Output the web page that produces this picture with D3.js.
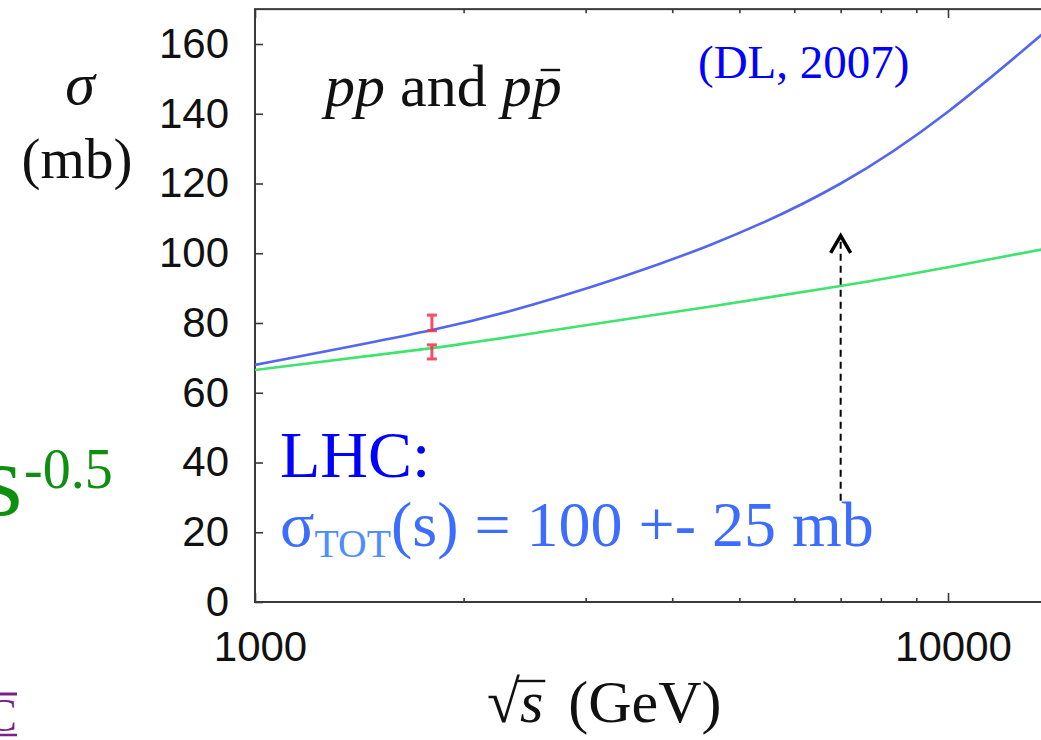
<!DOCTYPE html>
<html>
<head>
<meta charset="utf-8">
<script src="https://cdn.jsdelivr.net/npm/d3@7"></script>
<style>
	body { margin: 0; background: #fff; }
	svg { display: block; }
</style>
</head>
<body>
<svg id="chart" width="1041" height="740"></svg>
<script>
// sqrt(s) in GeV and sigma_tot in mb
const energies = [1000, 1800, 2750, 4500, 7000, 10000, 14000]
const sigmaHard = [68, 78, 87.5, 102.1, 120, 140.6, 164.5]
const sigmaSoft = [66.5, 72.8, 78.2, 84.6, 90.6, 96, 101.5]

// Tevatron points (CDF, E811)
const dataEnergy = [1800, 1800]
const dataSigma = [80.03, 71.71]
const dataError = [2.24, 2.02]

// LHC arrow
const lhcEnergy = 7000
const arrowFrom = 29
const arrowTo = 105

const yTicks = [0, 20, 40, 60, 80, 100, 120, 140, 160]
const xMajorTicks = [1000, 10000]
const xMinorTicks = [2000, 3000, 4000, 5000, 6000, 7000, 8000, 9000]

const svg = d3.select("#chart")

const x = d3.scaleLog().domain([1000, 14000]).range([255, 255 + 693 * Math.log10(14)])
const y = d3.scaleLinear().domain([0, 170]).range([602, 602 - 170 * 3.4875])

const plotLeft = x.range()[0]
const plotRight = x.range()[1]
const plotTop = y.range()[1]
const plotBottom = y.range()[0]

const sansFont = "'Liberation Sans', Arial, sans-serif"
const serifFont = "'Liberation Serif', 'Times New Roman', serif"
const axisColor = "#3a3a3a"

// frame
svg.append("rect")
	.attr("x", plotLeft)
	.attr("y", plotTop)
	.attr("width", plotRight - plotLeft)
	.attr("height", plotBottom - plotTop)
	.attr("fill", "none")
	.attr("stroke", axisColor)
	.attr("stroke-width", 2)

const yAxis = svg.append("g")
	.attr("transform", `translate(${plotLeft},0)`)
	.call(d3.axisLeft(y).tickValues(yTicks).tickSize(-8).tickPadding(26))
yAxis.selectAll("text").style("font", `42px ${sansFont}`).attr("fill", "#111")

svg.append("g")
	.attr("transform", `translate(${plotRight},0)`)
	.call(d3.axisRight(y).tickValues(yTicks).tickSize(-8).tickFormat(""))

const xAxis = svg.append("g")
	.attr("transform", `translate(0,${plotBottom})`)
	.call(d3.axisBottom(x).tickValues(xMajorTicks).tickSize(-9).tickPadding(29).tickFormat(d3.format("d")))
xAxis.selectAll("text").style("font", `42px ${sansFont}`).attr("fill", "#111").attr("dx", 5)

svg.append("g")
	.attr("transform", `translate(0,${plotBottom})`)
	.call(d3.axisBottom(x).tickValues(xMinorTicks).tickSize(-4).tickFormat(""))

svg.append("g")
	.attr("transform", `translate(0,${plotTop})`)
	.call(d3.axisTop(x).tickValues(xMajorTicks).tickSize(-9).tickFormat(""))

svg.append("g")
	.attr("transform", `translate(0,${plotTop})`)
	.call(d3.axisTop(x).tickValues(xMinorTicks).tickSize(-4).tickFormat(""))

svg.selectAll(".domain").remove()
svg.selectAll(".tick line").attr("stroke", axisColor).attr("stroke-width", 1.6)

// curves
const line = d3.line()
	.curve(d3.curveNatural)
	.x((d, i) => x(energies[i]))
	.y(d => y(d))

svg.append("path")
	.datum(sigmaSoft)
	.attr("fill", "none")
	.attr("stroke", "#3ee46e")
	.attr("stroke-width", 2.6)
	.attr("d", line)

svg.append("path")
	.datum(sigmaHard)
	.attr("fill", "none")
	.attr("stroke", "#5266f0")
	.attr("stroke-width", 2.6)
	.attr("d", line)

// error bars
const bars = svg.append("g").attr("stroke", "#f5304c").attr("stroke-width", 3).attr("opacity", 0.85)
dataSigma.forEach((v, i) => {
	const cx = x(dataEnergy[i])
	bars.append("line")
		.attr("x1", cx).attr("x2", cx)
		.attr("y1", y(v - dataError[i])).attr("y2", y(v + dataError[i]))
	;[v - dataError[i], v + dataError[i]].forEach(e => {
		bars.append("line")
			.attr("x1", cx - 5).attr("x2", cx + 5)
			.attr("y1", y(e)).attr("y2", y(e))
	})
})

// LHC arrow
const ax = x(lhcEnergy)
svg.append("line")
	.attr("x1", ax).attr("x2", ax)
	.attr("y1", y(arrowFrom)).attr("y2", y(arrowTo) + 3)
	.attr("stroke", "#000")
	.attr("stroke-width", 2)
	.attr("stroke-dasharray", "7,5")
svg.append("path")
	.attr("d", `M${ax - 10},${y(arrowTo) + 17} L${ax},${y(arrowTo)} L${ax + 10},${y(arrowTo) + 17}`)
	.attr("fill", "none")
	.attr("stroke", "#000")
	.attr("stroke-width", 3.5)
	.attr("stroke-linejoin", "miter")

// labels in the frame
const proc = svg.append("text")
	.attr("x", 325)
	.attr("y", 106)
	.style("font", `60px ${serifFont}`)
	.attr("fill", "#111")
proc.append("tspan").style("font-style", "italic").text("pp")
proc.append("tspan").text(" and ")
proc.append("tspan").style("font-style", "italic").text("pp")
const lastP = proc.node().getExtentOfChar(8)
svg.append("line")
	.attr("x1", lastP.x + lastP.width * 0.3)
	.attr("x2", lastP.x + lastP.width * 0.95)
	.attr("y1", 70).attr("y2", 70)
	.attr("stroke", "#111")
	.attr("stroke-width", 2.4)

svg.append("text")
	.attr("x", 698)
	.attr("y", 78)
	.style("font", `47px ${serifFont}`)
	.attr("fill", "#0000ff")
	.text("(DL, 2007)")

svg.append("text")
	.attr("x", 280)
	.attr("y", 477)
	.style("font", `66px ${serifFont}`)
	.attr("fill", "#0000ff")
	.text("LHC:")

const tot = svg.append("text")
	.attr("x", 280)
	.attr("y", 546)
	.style("font", `64px ${serifFont}`)
	.attr("fill", "#3d6dff")
tot.append("tspan").text("σ")
tot.append("tspan").attr("font-size", "0.62em").attr("dy", "0.28em").attr("fill", "#4f8cff").text("TOT")
tot.append("tspan").attr("dy", "-0.175em").text("(s) = 100 +- 25 mb")

// axis titles
svg.append("text")
	.attr("x", 80)
	.attr("y", 104)
	.attr("text-anchor", "middle")
	.style("font", `italic 60px ${serifFont}`)
	.attr("fill", "#111")
	.text("σ")
svg.append("text")
	.attr("x", 77)
	.attr("y", 178)
	.attr("text-anchor", "middle")
	.style("font", `57px ${serifFont}`)
	.attr("fill", "#111")
	.text("(mb)")

const xTitle = svg.append("text")
	.attr("x", 487)
	.attr("y", 722)
	.style("font", `60px ${serifFont}`)
	.attr("fill", "#111")
xTitle.append("tspan").text("√")
xTitle.append("tspan").style("font-style", "italic").text("s")
xTitle.append("tspan").attr("dx", 10).text(" (GeV)")
const rootExt = xTitle.node().getExtentOfChar(0)
const sExt = xTitle.node().getExtentOfChar(1)
svg.append("line")
	.attr("x1", rootExt.x + rootExt.width - 3)
	.attr("x2", sExt.x + sExt.width + 2)
	.attr("y1", 681).attr("y2", 681)
	.attr("stroke", "#111")
	.attr("stroke-width", 2.4)

// slide text cut at the left edge
const power = svg.append("text")
	.attr("x", -18)
	.attr("y", 515)
	.style("font", `104px ${serifFont}`)
	.attr("fill", "#0f8f0f")
power.append("tspan").text("s")
power.append("tspan").attr("x", 24).attr("y", 488).attr("font-size", "56px").text("-0.5")

svg.append("text")
	.attr("x", 17)
	.attr("y", 731)
	.attr("text-anchor", "end")
	.style("font", `46px ${serifFont}`)
	.attr("fill", "#7d1f84")
	.text("C")
svg.append("line").attr("x1", 0).attr("x2", 17).attr("y1", 694).attr("y2", 694)
	.attr("stroke", "#7d1f84").attr("stroke-width", 3)
svg.append("line").attr("x1", 0).attr("x2", 17).attr("y1", 735).attr("y2", 735)
	.attr("stroke", "#7d1f84").attr("stroke-width", 2.5)
</script>
</body>
</html>
